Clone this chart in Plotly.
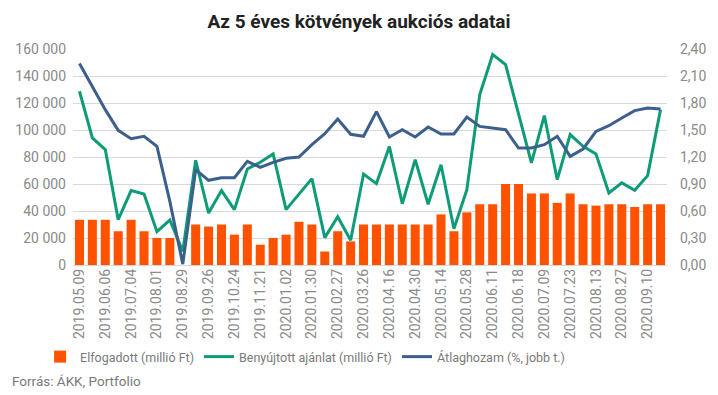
import plotly.graph_objects as go

dates = [
    "2019.05.09", "2019.05.23", "2019.06.06", "2019.06.20", "2019.07.04", "2019.07.18",
    "2019.08.01", "2019.08.15", "2019.08.29", "2019.09.12", "2019.09.26", "2019.10.10",
    "2019.10.24", "2019.11.07", "2019.11.21", "2019.12.05", "2020.01.02", "2020.01.16",
    "2020.01.30", "2020.02.13", "2020.02.27", "2020.03.12", "2020.03.26", "2020.04.02",
    "2020.04.16", "2020.04.23", "2020.04.30", "2020.05.07", "2020.05.14", "2020.05.21",
    "2020.05.28", "2020.06.04", "2020.06.11", "2020.06.15", "2020.06.18", "2020.07.02",
    "2020.07.09", "2020.07.16", "2020.07.23", "2020.08.06", "2020.08.13", "2020.08.20",
    "2020.08.27", "2020.09.03", "2020.09.10", "2020.09.17",
]
tick_labels = dates[::2]

elfogadott = [
    33500, 33500, 33500, 25000, 33500, 25000, 20000, 20000, 0, 30000,
    28500, 30000, 22500, 30000, 15000, 20000, 22500, 32000, 30000, 10000,
    25000, 17500, 30000, 30000, 30000, 30000, 30000, 30000, 37500, 25000,
    39000, 45000, 45000, 60000, 60000, 53000, 53000, 46000, 53000, 45000,
    44000, 45000, 45000, 43000, 45000, 45000,
]
benyujtott = [
    128700, 94100, 85500, 33600, 55100, 52600, 24700, 33300, 10100, 77600,
    38500, 55100, 41000, 71100, 76100, 82300, 41000, 52900, 64000, 20300,
    35800, 18300, 67400, 60300, 87700, 45400, 78000, 45000, 74300, 26900,
    55800, 126200, 155900, 148400, 112000, 75600, 110700, 63200, 96600, 87900,
    82300, 53400, 60800, 55300, 66200, 115100,
]
atlaghozam = [
    2.24, 1.985, 1.726, 1.496, 1.404, 1.430, 1.319, 0.707, 0.01, 1.059,
    0.941, 0.970, 0.970, 1.152, 1.085, 1.141, 1.185, 1.20, 1.337, 1.459,
    1.622, 1.452, 1.430, 1.704, 1.422, 1.504, 1.422, 1.533, 1.456, 1.456,
    1.644, 1.54, 1.522, 1.504, 1.30, 1.30, 1.337, 1.43, 1.207, 1.289,
    1.485, 1.548, 1.633, 1.715, 1.744, 1.733,
]

left_ticks = [0, 20000, 40000, 60000, 80000, 100000, 120000, 140000, 160000]
right_ticks = [0, 0.3, 0.6, 0.9, 1.2, 1.5, 1.8, 2.1, 2.4]

FONT = "Roboto"
TICK_COLOR = "#8a8a8a"
LEG_COLOR = "#7a7a7a"
LEG_SIZE = 12.5

fig = go.Figure()
fig.add_trace(go.Bar(
    x=dates, y=elfogadott, name="Elfogadott (millió Ft)",
    marker=dict(color="#FF5200", line=dict(width=0)),
))
fig.add_trace(go.Scatter(
    x=dates, y=benyujtott, name="Benyújtott ajánlat (millió Ft)",
    mode="lines", line=dict(color="#0E9C78", width=3),
))
fig.add_trace(go.Scatter(
    x=dates, y=atlaghozam, name="Átlaghozam (%, jobb t.)", yaxis="y2",
    mode="lines", line=dict(color="#3C5F8C", width=3),
))

fig.update_layout(
    width=718, height=395,
    margin=dict(l=73, r=49, t=49, b=130),
    paper_bgcolor="white", plot_bgcolor="white",
    separators=", ",
    font=dict(family=FONT, color=TICK_COLOR, size=14),
    bargap=0.3,
    title=dict(
        text="<b>Az 5 éves kötvények aukciós adatai</b>",
        x=0.5, xanchor="center", y=0.945, yanchor="middle",
        font=dict(family=FONT, size=19, color="#222222"),
    ),
    xaxis=dict(
        type="category", tickmode="array", tickvals=tick_labels, ticktext=tick_labels,
        tickangle=-90, showgrid=False, ticks="", showline=False,
        tickfont=dict(size=14, color=TICK_COLOR),
    ),
    yaxis=dict(
        range=[0, 160000], tickvals=left_ticks, tickformat=",d",
        showgrid=True, gridcolor="#d9d9d9", gridwidth=1,
        zeroline=True, zerolinecolor="#d9d9d9", zerolinewidth=1,
        ticks="", ticklabelstandoff=6, tickfont=dict(size=14, color=TICK_COLOR),
    ),
    yaxis2=dict(
        range=[0, 2.4], tickvals=right_ticks, tickformat=".2f",
        overlaying="y", side="right", showgrid=False, zeroline=False,
        ticks="", ticklabelstandoff=12, tickfont=dict(size=14, color=TICK_COLOR),
    ),
    legend=dict(
        orientation="h", x=(40 - 73) / 596, xanchor="left",
        y=(265 - 357) / 216, yanchor="middle",
        font=dict(size=LEG_SIZE, color=LEG_COLOR, family=FONT),
        itemwidth=30, traceorder="normal", bgcolor="rgba(0,0,0,0)", borderwidth=0,
    ),
    annotations=[dict(
        text="Forrás: ÁKK, Portfolio", xref="paper", yref="paper",
        x=(10 - 73) / 596, xanchor="left", y=(265 - 381) / 216, yanchor="middle",
        showarrow=False, font=dict(size=13.5, color=LEG_COLOR, family=FONT),
    )],
)

fig.write_html(
    "out.html",
    config={"displayModeBar": False},
    post_script="document.body.style.margin='0';",
)
